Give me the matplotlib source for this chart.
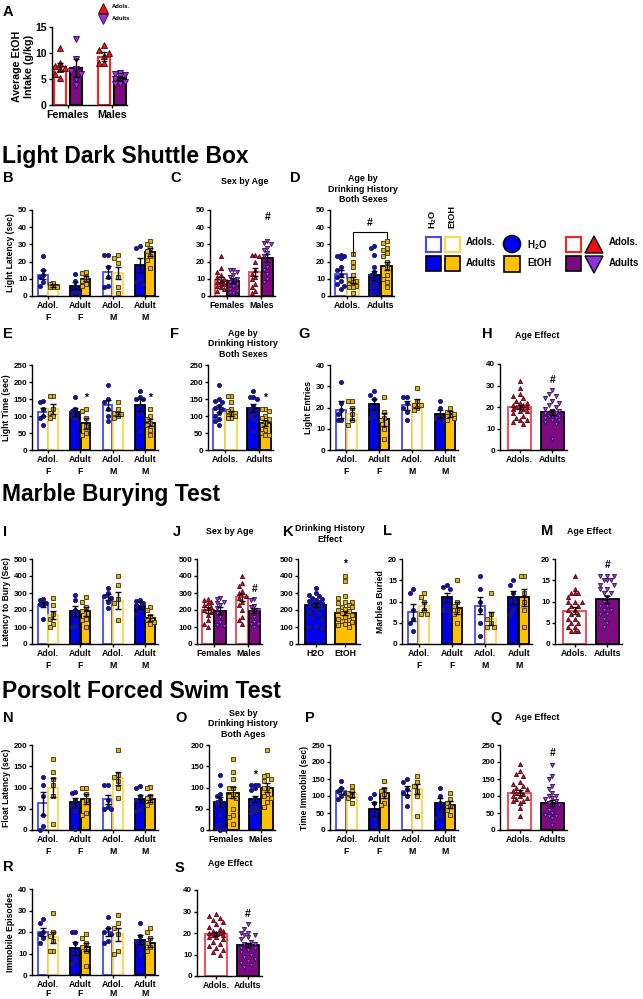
import numpy as np
import matplotlib
matplotlib.use('Agg')
import matplotlib.pyplot as plt
from matplotlib.patches import Rectangle, Circle, Polygon

plt.rcParams['font.family'] = ['Liberation Sans', 'DejaVu Sans']
plt.rcParams['font.weight'] = 'bold'
plt.rcParams['axes.labelweight'] = 'bold'
plt.rcParams['mathtext.fontset'] = 'custom'
plt.rcParams['mathtext.rm'] = 'Liberation Sans:bold'
plt.rcParams['mathtext.default'] = 'rm'

W, H = 643, 999

# ---------------- data ----------------
grp4 = ['Adol.\nF', 'Adult\nF', 'Adol.\nM', 'Adult\nM']
sex2 = ['Females', 'Males']
age2 = ['Adols.', 'Adults']
drink2 = ['H2O', 'EtOH']

# A: average EtOH intake (F adol, F adult, M adol, M adult)
a_means = [7.3, 7.1, 9.3, 5.2]
a_sems = [0.8, 1.7, 0.8, 0.4]
a_pts = [[11.0, 8.0, 7.2, 7.0, 6.0, 5.2, 7.5], [12.6, 8.8, 7.0, 6.5, 6.0, 5.0, 3.8],
         [11.5, 10.5, 10.0, 9.5, 8.0, 8.0], [6.2, 6.0, 5.8, 5.5, 5.0, 4.5, 4.0, 4.0]]

# 4-group panels: order AdolF H2O, AdolF EtOH, AdultF H2O, AdultF EtOH, AdolM H2O, AdolM EtOH, AdultM H2O, AdultM EtOH
b_means = [12.5, 6.0, 6.0, 10.0, 14.0, 13.5, 18.0, 25.5]
b_sems = [2.5, 0.8, 2.0, 1.5, 3.5, 3.5, 4.0, 2.5]
b_pts = [[23.5, 15, 12, 11, 8, 6], [7.5, 7, 6, 5.5, 5, 5], [13, 9, 6, 3, 2, 2], [14, 13.5, 11, 9, 7, 6],
         [24, 24, 17, 11, 6, 5], [24, 22, 19, 11, 5, 1.5], [28, 29, 17, 10, 8, 7], [32, 30, 28, 26, 23, 21, 16]]

e_means = [113, 120, 113, 78, 132, 106, 133, 80]
e_sems = [12, 15, 12, 15, 15, 7, 17, 10]
e_pts = [[145, 140, 120, 100, 95, 75], [160, 158, 120, 110, 100, 95], [155, 120, 115, 105, 100, 90],
         [120, 115, 95, 70, 50, 45], [190, 150, 140, 120, 100, 85], [140, 120, 110, 105, 100, 95],
         [175, 155, 150, 150, 110, 55], [120, 100, 90, 80, 75, 60, 45]]

g_means = [19, 17, 21.5, 14.5, 21, 22, 17, 17]
g_sems = [4, 3, 2.5, 3, 2, 2, 2, 1.5]
g_pts = [[32, 22, 19, 17, 14, 14], [23, 23, 20, 17, 14, 12], [28, 26, 24, 19, 16, 15], [25, 18, 15, 14, 10, 5],
         [25, 25, 22, 20, 18, 14], [29, 23, 21, 21, 20, 19], [23, 20, 16, 15, 14, 14], [20, 18, 17, 16, 15, 14]]

i_means = [232, 170, 195, 192, 275, 255, 225, 155]
i_sems = [17, 25, 30, 25, 17, 50, 20, 17]
i_pts = [[265, 260, 240, 235, 230, 150], [270, 230, 175, 150, 120, 100], [290, 260, 200, 170, 105, 100],
         [275, 250, 215, 195, 150, 140, 100], [330, 300, 285, 270, 250, 210], [400, 345, 265, 240, 140],
         [260, 255, 240, 230, 200, 175], [215, 200, 165, 140, 130, 120]]

l_means = [7.5, 9.0, 11.0, 8.5, 9.0, 6.0, 11.0, 11.0]
l_sems = [2.0, 1.0, 1.0, 1.5, 2.0, 1.5, 1.5, 2.0]
l_pts = [[13, 12, 8, 6, 5, 3], [12, 11, 10, 8, 7, 7], [14, 13.5, 13, 10, 8, 8], [15, 10, 9, 8, 7, 5],
         [16, 13, 10, 8, 5, 2], [12, 7, 6, 5, 4, 4], [15, 14, 12, 10, 8, 7], [16, 16, 12, 10, 8, 4]]

n_means = [63, 100, 65, 73, 72, 122, 73, 74]
n_sems = [27, 22, 10, 12, 10, 15, 10, 8]
n_pts = [[125, 105, 80, 35, 10, 0], [168, 137, 120, 105, 80, 15], [90, 88, 70, 60, 45, 2],
         [100, 100, 85, 70, 40, 35], [105, 105, 70, 55, 50, 50], [188, 130, 125, 115, 100, 75],
         [103, 100, 80, 70, 50, 45], [102, 100, 80, 75, 65, 60]]

p_means = [115, 105, 62, 110, 115, 120, 78, 75]
p_sems = [10, 8, 20, 15, 13, 15, 15, 10]
p_pts = [[145, 125, 115, 110, 100, 90], [130, 115, 110, 100, 95, 80], [105, 95, 80, 50, 35, 15],
         [145, 120, 115, 105, 80, 75], [150, 140, 120, 110, 100, 70], [160, 140, 130, 115, 100, 40],
         [125, 100, 80, 55, 40, 35], [110, 90, 80, 70, 60, 45]]

r_means = [20, 17.5, 12.5, 13, 20, 19, 16.5, 15]
r_sems = [2, 2.5, 3, 2, 2, 3, 2, 2]
r_pts = [[26, 24, 20, 19, 17, 15], [29, 20, 18, 16, 11, 11], [20, 20, 15, 10, 7, 5], [19, 17, 15, 13, 11, 4],
         [27, 22, 20, 19, 16, 15], [28, 24, 22, 19, 11, 10], [24, 18, 16, 15, 13, 10], [22, 20, 17, 15, 13, 11]]

# 2x2 panels
c_means = [9.5, 9.0, 14.0, 22.0]  # F adol, F adult, M adol, M adult
c_sems = [1.5, 1.5, 2.5, 2.5]
c_pts = [[23.5, 16, 14, 12, 11, 10, 9, 8, 7, 7, 6, 5, 4, 3], [15, 15, 14, 12, 11, 10, 9, 8, 7, 6, 4, 3, 2, 2],
         [24, 24, 23, 20, 15, 13, 11, 10, 7, 5, 3, 2], [32, 31, 30, 28, 27, 25, 23, 21, 17, 15, 13, 10, 8]]

d_means = [13.0, 9.5, 12.0, 17.5]  # adol H2O, adol EtOH, adult H2O, adult EtOH
d_sems = [2.0, 1.8, 2.5, 2.5]
d_pts = [[24, 23.5, 23, 22, 17, 15, 12, 11, 9, 7, 6, 4], [24.5, 20, 17, 12, 10, 9, 8, 7, 6, 5, 5, 2],
         [29, 28, 24, 17, 14, 12, 10, 8, 6, 5, 2, 2], [32, 31, 28, 27, 25, 23, 20, 17, 12, 10, 8, 5]]

f_means = [122, 108, 123, 80]
f_sems = [9, 7, 11, 9]
f_pts = [[190, 150, 145, 140, 130, 125, 120, 110, 100, 90, 85, 75],
         [160, 158, 140, 120, 115, 110, 105, 100, 100, 95, 95],
         [175, 155, 155, 150, 130, 120, 115, 110, 100, 90, 55],
         [120, 120, 115, 100, 95, 90, 80, 75, 60, 50, 45, 45]]

j_means = [200, 195, 275, 195]
j_sems = [20, 20, 20, 15]
j_pts = [[265, 260, 250, 240, 230, 220, 210, 200, 190, 170, 140, 120, 100],
         [270, 265, 250, 240, 230, 210, 190, 180, 160, 130, 110, 105],
         [400, 360, 340, 310, 300, 285, 270, 250, 230, 200, 160, 140, 120],
         [265, 260, 225, 215, 200, 195, 180, 160, 130, 120, 115, 100]]

o_means = [65, 88, 73, 100]  # F H2O, F EtOH, M H2O, M EtOH
o_sems = [12, 13, 7, 10]
o_pts = [[130, 105, 85, 80, 70, 65, 55, 35, 15, 5, 2, 0], [168, 137, 120, 100, 100, 85, 80, 75, 50, 35, 30, 15],
         [107, 105, 105, 100, 95, 75, 65, 55, 50, 50, 45, 40], [188, 130, 128, 120, 115, 100, 100, 85, 80, 75, 65, 55]]

# two-bar panels
k_means = [230, 185]
k_sems = [12, 12]
k_pts = [[330, 300, 290, 280, 270, 265, 260, 255, 250, 245, 240, 235, 230, 225, 220, 215, 200, 190, 175, 160,
          150, 105, 100, 95],
         [400, 370, 280, 270, 250, 250, 240, 230, 220, 215, 205, 200, 195, 180, 170, 160, 150, 140, 135, 130,
          120, 110, 100]]

h_means = [20.0, 17.5]
h_sems = [1.0, 1.0]
h_pts = [[32, 29, 26, 25, 24, 23, 22, 22, 21, 21, 20, 20, 20, 19, 19, 18, 18, 17, 16, 15, 14, 14, 13, 12],
         [28, 26, 25, 24, 23, 22, 21, 20, 19, 18, 18, 17, 17, 16, 16, 16, 15, 15, 14, 14, 13, 12, 5]]

m_means = [7.8, 10.5]
m_sems = [0.8, 0.8]
m_pts = [[16, 13, 12, 12, 12, 11, 10, 10, 10, 9, 9, 8, 8, 7, 7, 6, 6, 5, 5, 4, 4, 3, 3, 3],
         [16, 16, 16, 15, 15, 15, 14, 14, 13, 13, 12, 12, 11, 10, 9, 9, 8, 8, 7, 7, 6, 5, 4]]

q_means = [110, 80]
q_sems = [7, 8]
q_pts = [[195, 175, 165, 160, 140, 135, 130, 125, 120, 115, 115, 110, 105, 100, 100, 95, 90, 85, 85, 80, 65, 40],
         [190, 160, 150, 130, 120, 110, 100, 100, 95, 90, 85, 80, 75, 70, 60, 50, 45, 40, 40, 35, 15]]

s_means = [19.5, 14.5]
s_sems = [1.0, 1.0]
s_pts = [[29, 28, 27, 26, 25, 24, 23, 22, 21, 21, 20, 20, 20, 19, 19, 18, 18, 17, 16, 15, 14, 13, 12, 11, 10],
         [24, 22, 20, 20, 19, 19, 18, 17, 16, 15, 15, 14, 13, 13, 12, 11, 10, 9, 8, 7, 6, 5, 4]]

# ---------------- styles ----------------
BLUE, BLUE_O = '#0000EE', '#4646FF'
YEL, YEL_O = '#FFC000', '#FFD54A'
RED_O, PURP = '#F0404A', '#7D0A80'
DOT = '#16168C'
SQ, SQ_E = '#E2B020', '#3a3000'
TRI, TRI_E = '#C0102A', '#5a0010'
VTRI, VTRI_E = '#9050D0', '#3a0860'

STY = {
    'h2o_o': ('white', BLUE_O, 'o', DOT, DOT),
    'etoh_o': ('white', YEL_O, 's', SQ, SQ_E),
    'h2o_f': (BLUE, 'black', 'o', DOT, DOT),
    'etoh_f': (YEL, 'black', 's', SQ, SQ_E),
    'ado': ('white', RED_O, '^', TRI, TRI_E),
    'adu': (PURP, 'black', 'v', VTRI, VTRI_E),
    'ado_a': ('white', '#FF2020', '^', '#E8141B', '#400000'),
    'adu_a': (PURP, 'black', 'v', '#9B30D9', '#300040'),
}

kinds8 = ['h2o_o', 'etoh_o', 'h2o_f', 'etoh_f'] * 2
x8 = [g + d for g in range(4) for d in (-0.16, 0.16)]
x4 = [-0.18, 0.18, 0.82, 1.18]
x2 = [0, 1]

fig = plt.figure(figsize=(W / 100, H / 100), dpi=100)
ov = fig.add_axes([0, 0, 1, 1])
ov.set_xlim(0, W)
ov.set_ylim(H, 0)
ov.axis('off')


def swarm(vals, half_px, ppy, ms_px):
    order = np.argsort(-vals, kind='stable')
    offs = np.zeros(len(vals))
    step = ms_px * 0.8
    cands = [0.0]
    k = 1
    while k * step <= half_px:
        cands += [-k * step, k * step]
        k += 1
    placed = []
    for i in order:
        y = vals[i] * ppy
        best, bestd = 0.0, -1
        for c in cands:
            d = min([np.hypot(c - px, y - py) for px, py in placed], default=1e9)
            if d >= ms_px:
                best = c
                break
            if d > bestd:
                best, bestd = c, d
        offs[i] = best
        placed.append((best, y))
    return offs


def panel(box, xlim, ylim, yticks, xticks, xlabels, xs, width, means, sems, pts, kinds,
          ylabel=None, ms=3.0, fs_x=6.3, fs_y=5.8, fs_lab=6.2, cap=2.0, lw=1.3, ls_x=1.45):
    x0, x1, yt, yb = box
    ax = fig.add_axes([x0 / W, 1 - yb / H, (x1 - x0) / W, (yb - yt) / H])
    ax.patch.set_visible(False)
    ppx = (x1 - x0) / (xlim[1] - xlim[0])
    ppy = (yb - yt) / (ylim[1] - ylim[0])
    for x, m, s, p, k in zip(xs, means, sems, pts, kinds):
        fc, ec, mk, mfc, mec = STY[k]
        ax.bar(x, m, width, color=fc, edgecolor=ec, linewidth=lw, zorder=2)
        p = np.asarray(p, float)
        off = swarm(p, width * ppx * 0.42, ppy, ms * 1.45)
        ax.plot(x + off / ppx, p, ls='none', marker=mk, ms=ms, mfc=mfc, mec=mec, mew=0.6,
                zorder=3, clip_on=False)
        ax.errorbar(x, m, yerr=s, fmt='none', ecolor='black', elinewidth=1, capsize=cap,
                    capthick=1, zorder=4)
    ax.set_xlim(xlim)
    ax.set_ylim(ylim)
    for sp in ['top', 'right']:
        ax.spines[sp].set_visible(False)
    for sp in ['left', 'bottom']:
        ax.spines[sp].set_linewidth(1)
    ax.set_yticks(yticks)
    ax.set_xticks(xticks)
    ax.set_xticklabels(xlabels, fontsize=fs_x, linespacing=ls_x)
    ax.tick_params(axis='y', labelsize=fs_y, length=2.5, width=1, pad=1)
    ax.tick_params(axis='x', length=2.5, width=1, pad=1)
    if ylabel:
        ax.set_ylabel(ylabel, fontsize=fs_lab, labelpad=2)
    return ax


def sig(ax, x, y, s):
    ax.text(x, y, s, ha='center', va='center', fontsize=7.5, fontweight='bold')


L4, L2, L1 = (-0.5, 3.4), (-0.5, 1.4), (-0.6, 1.45)

# ---- A ----
axA = panel((52, 127, 27, 105), (-0.36, 1.34), (0, 15), [0, 5, 10, 15], [0, 1], sex2, x4, 0.28,
            a_means, a_sems, a_pts, ['ado_a', 'adu_a'] * 2, ylabel='Average EtOH\nIntake (g/kg)',
            ms=4.2, fs_x=7.7, fs_y=7.5, fs_lab=7.7, cap=2.5, lw=1.5)
axA.yaxis.labelpad = 1
axA.tick_params(axis='y', pad=1.5)

# ---- Light Dark row 1 ----
panel((32, 158, 210, 296), L4, (0, 50), range(0, 51, 10), range(4), grp4, x8, 0.3,
      b_means, b_sems, b_pts, kinds8, ylabel='Light Latency (sec)')
axC = panel((210, 275, 210, 296), L2, (0, 50), range(0, 51, 10), [0, 1], sex2, x4, 0.34,
            c_means, c_sems, c_pts, ['ado', 'adu'] * 2)
sig(axC, x4[3], 46, '#')
axD = panel((330, 394, 210, 296), L2, (0, 50), range(0, 51, 10), [0, 1], age2, x4, 0.34,
            d_means, d_sems, d_pts, ['h2o_o', 'etoh_o', 'h2o_f', 'etoh_f'])
axD.plot([x4[1], x4[1], x4[3], x4[3]], [24, 37, 37, 34], color='black', lw=0.8, zorder=5)
sig(axD, (x4[1] + x4[3]) / 2, 42.5, '#')

# ---- row 2 ----
axE = panel((32, 158, 365, 450), L4, (0, 250), range(0, 251, 50), range(4), grp4, x8, 0.3,
            e_means, e_sems, e_pts, kinds8, ylabel='Light Time (sec)')
sig(axE, x8[3], 153, '*')
sig(axE, x8[7], 153, '*')
axF = panel((208, 273, 365, 450), L2, (0, 250), range(0, 251, 50), [0, 1], age2, x4, 0.34,
            f_means, f_sems, f_pts, ['h2o_o', 'etoh_o', 'h2o_f', 'etoh_f'])
sig(axF, x4[3], 153, '*')
panel((330, 458, 365, 450), L4, (0, 40), range(0, 41, 10), range(4), grp4, x8, 0.3,
      g_means, g_sems, g_pts, kinds8, ylabel='Light Entries')
axH = panel((500, 567, 364, 450), L1, (0, 40), range(0, 41, 10), [0, 1], age2, x2, 0.7,
            h_means, h_sems, h_pts, ['ado', 'adu'])
sig(axH, 1, 32.5, '#')

# ---- Marble burying ----
panel((32, 158, 559, 644), L4, (0, 500), range(0, 501, 100), range(4), grp4, x8, 0.3,
      i_means, i_sems, i_pts, kinds8, ylabel='Latency to Bury (Sec)')
axJ = panel((197, 262, 559, 644), L2, (0, 500), range(0, 501, 100), [0, 1], sex2, x4, 0.34,
            j_means, j_sems, j_pts, ['ado', 'adu'] * 2)
sig(axJ, x4[3], 323, '#')
axK = panel((298, 360, 559, 644), (-0.59, 1.5), (0, 500), range(0, 501, 100), [0, 1], drink2, x2, 0.7,
            k_means, k_sems, k_pts, ['h2o_f', 'etoh_f'])
sig(axK, 1, 470, '*')
panel((402, 532, 559, 644), L4, (0, 20), range(0, 21, 5), range(4), grp4, x8, 0.3,
      l_means, l_sems, l_pts, kinds8, ylabel='Marbles Buried')
axM = panel((555, 622, 559, 644), L1, (0, 20), range(0, 21, 5), [0, 1], age2, x2, 0.7,
            m_means, m_sems, m_pts, ['ado', 'adu'])
sig(axM, 1, 18.6, '#')

# ---- Forced swim ----
panel((32, 158, 745, 830), L4, (0, 200), range(0, 201, 50), range(4), grp4, x8, 0.3,
      n_means, n_sems, n_pts, kinds8, ylabel='Float Latency (sec)')
axO = panel((209, 275, 745, 830), L2, (0, 200), range(0, 201, 50), [0, 1], sex2, x4, 0.34,
            o_means, o_sems, o_pts, ['h2o_f', 'etoh_f'] * 2)
sig(axO, x4[2], 129, '*')
panel((330, 458, 745, 830), L4, (0, 250), range(0, 251, 50), range(4), grp4, x8, 0.3,
      p_means, p_sems, p_pts, kinds8, ylabel='Time Immobile (sec)')
axQ = panel((500, 567, 745, 830), L1, (0, 250), range(0, 251, 50), [0, 1], age2, x2, 0.7,
            q_means, q_sems, q_pts, ['ado', 'adu'])
sig(axQ, 1, 226, '#')
panel((32, 158, 889, 975), L4, (0, 40), range(0, 41, 10), range(4), grp4, x8, 0.3,
      r_means, r_sems, r_pts, kinds8, ylabel='Immobile Episodes', ls_x=1.0)
axS = panel((197, 262, 890, 976), L1, (0, 40), range(0, 41, 10), [0, 1], age2, x2, 0.7,
            s_means, s_sems, s_pts, ['ado', 'adu'])
sig(axS, 1, 28.7, '#')

# ---------------- overlay text ----------------
def T(x, y, s, size, ha='left', **kw):
    ov.text(x, y, s, fontsize=size, ha=ha, va='center', fontweight='bold', **kw)


for s, y in [('Light Dark Shuttle Box', 156), ('Marble Burying Test', 495), ('Porsolt Forced Swim Test', 692)]:
    T(2, y, s, 16.5)

letters = [('A', 3, 12), ('B', 3, 178), ('C', 170, 178), ('D', 290, 178), ('E', 3, 334), ('F', 170, 334),
           ('G', 298, 334), ('H', 482, 334), ('I', 3, 532), ('J', 173, 532), ('K', 283, 532), ('L', 383, 531),
           ('M', 541, 531), ('N', 3, 718), ('O', 175, 718), ('P', 305, 718), ('Q', 490, 718), ('R', 3, 867),
           ('S', 175, 868)]
for s, x, y in letters:
    T(x, y, s, 10.5)

titles = [('Sex by Age', 245, 182), ('Age by\nDrinking History\nBoth Sexes', 363, 189),
          ('Age by\nDrinking History\nBoth Sexes', 243, 344), ('Age Effect', 537, 336),
          ('Sex by Age', 230, 531), ('Drinking History\nEffect', 330, 534), ('Age Effect', 589, 531),
          ('Sex by\nDrinking History\nBoth Ages', 243, 724), ('Age Effect', 537, 717), ('Age Effect', 230, 863)]
for s, x, y in titles:
    T(x, y, s, 6.4, ha='center', linespacing=1.15)

# panel A legend
ov.plot([103], [8], ls='none', marker='^', ms=7, mfc='#E8141B', mec='#400000', mew=0.6)
ov.plot([103], [19], ls='none', marker='v', ms=7, mfc='#9B30D9', mec='#300040', mew=0.6)
T(112, 7, 'Adols.', 4.2)
T(112, 18, 'Adults', 4.2)

# group legend
ov.add_patch(Rectangle((426, 237), 15, 15, fc='white', ec=BLUE_O, lw=1.5))
ov.add_patch(Rectangle((445, 237), 15, 15, fc='white', ec=YEL_O, lw=1.5))
ov.add_patch(Rectangle((426, 256), 15, 15, fc=BLUE, ec='black', lw=1.2))
ov.add_patch(Rectangle((445, 256), 15, 15, fc=YEL, ec='black', lw=1.2))
T(433, 219, 'H$_2$O', 6.6, ha='center', rotation=90)
T(452, 217, 'EtOH', 6.6, ha='center', rotation=90)
T(466, 242, 'Adols.', 7)
T(466, 263, 'Adults', 7)
ov.add_patch(Circle((512, 244), 8.5, fc=BLUE, ec='black', lw=1.2))
ov.add_patch(Rectangle((504, 256), 16, 16, fc=YEL, ec='black', lw=1.2))
T(527, 245, 'H$_2$O', 7)
T(527, 263, 'EtOH', 7)
ov.add_patch(Rectangle((566, 237), 15, 15, fc='white', ec='#FF2020', lw=1.5))
ov.add_patch(Rectangle((566, 256), 15, 15, fc=PURP, ec='black', lw=1.2))
ov.add_patch(Polygon([(585, 253), (603, 253), (594, 236)], closed=True, fc='#EE1010', ec='black', lw=1))
ov.add_patch(Polygon([(585, 256), (603, 256), (594, 273)], closed=True, fc='#9030E0', ec='black', lw=1))
T(609, 242, 'Adols.', 7)
T(609, 263, 'Adults', 7)

fig.savefig('out.png', dpi=100)
